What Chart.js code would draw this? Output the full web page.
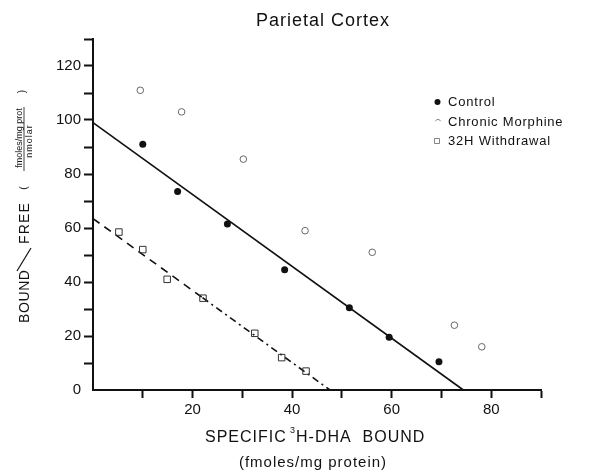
<!DOCTYPE html>
<html>
<head>
<meta charset="utf-8">
<script src="https://cdn.jsdelivr.net/npm/chart.js@4/dist/chart.umd.min.js"></script>
<style>
  html, body { margin: 0; padding: 0; background: #fff; }
  canvas { display: block; }
</style>
</head>
<body>
<canvas id="c" width="589" height="472"></canvas>
<script>
// ---- data ----
const titleText = "Parietal Cortex";
const seriesNames = ["Control", "Chronic Morphine", "32H Withdrawal"];

const controlX = [10, 17, 27, 38.5, 51.5, 59.5, 69.5];
const controlY = [91, 73.5, 61.5, 44.5, 30.5, 19.5, 10.5];

const morphineX = [9.5, 17.8, 30.2, 42.6, 56.1, 72.6, 78.1];
const morphineY = [111, 103, 85.5, 59, 51, 24, 16];

const withdrawalX = [5.2, 10, 14.9, 22.1, 32.5, 37.9, 42.8];
const withdrawalY = [58.5, 52, 41, 34, 21, 12, 7];

const controlFitX = [0, 74.4];
const controlFitY = [99, 0];

const withdrawalFitX = [0, 22, 47.6];
const withdrawalFitY = [63.5, 34.2, 0];

const xTickLabels = [20, 40, 60, 80];
const yTickLabels = [0, 20, 40, 60, 80, 100, 120];

const xTitle1 = "SPECIFIC";
const xTitleSup = "3";
const xTitle2 = "H-DHA  BOUND";
const xTitle3 = "(fmoles/mg protein)";
const yTitleA = "BOUND";
const yTitleB = "FREE";
const yFracNum = "fmoles/mg prot";
const yFracDen = "nmolar";

// ---- helpers ----
const zip = (xs, ys) => xs.map((x, i) => ({ x: x, y: ys[i] }));
const FONT = '"Liberation Sans", Arial, sans-serif';

const textPlugin = {
  id: 'texts',
  afterDraw(chart) {
    const ctx = chart.ctx;
    ctx.save();
    ctx.fillStyle = '#111';
    ctx.strokeStyle = '#111';

    // title
    ctx.font = '18px ' + FONT;
    ctx.letterSpacing = '1px';
    ctx.textAlign = 'center';
    ctx.textBaseline = 'alphabetic';
    ctx.fillText(titleText, 323, 26);

    // legend
    ctx.font = '13px ' + FONT;
    ctx.letterSpacing = '0.8px';
    ctx.textAlign = 'left';
    const legY = [106, 125.5, 144.5];
    seriesNames.forEach((name, i) => {
      ctx.fillText(name, 448, legY[i]);
    });
    // legend markers
    ctx.beginPath();
    ctx.arc(437.5, 102, 3, 0, Math.PI * 2);
    ctx.fillStyle = '#111';
    ctx.fill();
    ctx.lineWidth = 0.9;
    ctx.strokeStyle = '#777';
    ctx.beginPath();
    ctx.arc(438, 122, 2.6, Math.PI * 1.1, Math.PI * 1.9);
    ctx.stroke();
    ctx.beginPath();
    ctx.rect(434.5, 138.5, 5, 5);
    ctx.stroke();
    ctx.strokeStyle = '#111';
    ctx.fillStyle = '#111';

    // x title
    ctx.font = '16px ' + FONT;
    ctx.letterSpacing = '1px';
    ctx.textAlign = 'left';
    ctx.fillText(xTitle1, 205, 442);
    ctx.font = '9px ' + FONT;
    ctx.letterSpacing = '0px';
    ctx.fillText(xTitleSup, 290, 433);
    ctx.font = '16px ' + FONT;
    ctx.letterSpacing = '1px';
    ctx.fillText(xTitle2, 296, 442);
    ctx.font = '15px ' + FONT;
    ctx.letterSpacing = '1px';
    ctx.textAlign = 'center';
    ctx.fillText(xTitle3, 313, 467);

    // y title (rotated)
    ctx.save();
    ctx.translate(29, 323);
    ctx.rotate(-Math.PI / 2);
    ctx.font = '14px ' + FONT;
    ctx.letterSpacing = '0.6px';
    ctx.textAlign = 'left';
    ctx.fillText(yTitleA, 0, 0);
    ctx.restore();
    // big slash
    ctx.lineWidth = 1.2;
    ctx.beginPath();
    ctx.moveTo(31, 248);
    ctx.lineTo(17, 271);
    ctx.stroke();
    ctx.save();
    ctx.translate(29, 244);
    ctx.rotate(-Math.PI / 2);
    ctx.font = '14px ' + FONT;
    ctx.letterSpacing = '1.2px';
    ctx.textAlign = 'left';
    ctx.fillText(yTitleB, 0, 0);
    ctx.restore();
    // parentheses & fraction
    ctx.save();
    ctx.translate(27, 188);
    ctx.rotate(-Math.PI / 2);
    ctx.font = '10px ' + FONT;
    ctx.letterSpacing = '0px';
    ctx.textAlign = 'center';
    ctx.fillText('(', 0, 0);
    ctx.restore();
    ctx.save();
    ctx.translate(21.5, 138);
    ctx.rotate(-Math.PI / 2);
    ctx.font = '9px ' + FONT;
    ctx.letterSpacing = '0px';
    ctx.textAlign = 'center';
    ctx.fillText(yFracNum, 0, 0);
    ctx.restore();
    ctx.lineWidth = 0.8;
    ctx.beginPath();
    ctx.moveTo(24, 171);
    ctx.lineTo(24, 107);
    ctx.stroke();
    ctx.save();
    ctx.translate(31.5, 141);
    ctx.rotate(-Math.PI / 2);
    ctx.font = '9px ' + FONT;
    ctx.textAlign = 'center';
    ctx.fillText(yFracDen, 0, 0);
    ctx.restore();
    ctx.save();
    ctx.translate(25, 91);
    ctx.rotate(-Math.PI / 2);
    ctx.font = '10px ' + FONT;
    ctx.textAlign = 'center';
    ctx.fillText(')', 0, 0);
    ctx.restore();

    ctx.restore();
  }
};

new Chart(document.getElementById('c'), {
  type: 'scatter',
  data: {
    datasets: [
      {
        label: seriesNames[0],
        data: zip(controlX, controlY),
        pointStyle: 'circle',
        pointRadius: 3.5,
        backgroundColor: '#111',
        borderColor: '#111',
        borderWidth: 0,
        clip: false
      },
      {
        label: seriesNames[1],
        data: zip(morphineX, morphineY),
        pointStyle: 'circle',
        pointRadius: 3.3,
        backgroundColor: 'rgba(255,255,255,0)',
        borderColor: '#666',
        borderWidth: 1,
        clip: false
      },
      {
        label: seriesNames[2],
        data: zip(withdrawalX, withdrawalY),
        pointStyle: 'rect',
        pointRadius: 4.6,
        backgroundColor: 'rgba(255,255,255,0)',
        borderColor: '#333',
        borderWidth: 1,
        clip: false
      },
      {
        label: 'controlFit',
        data: zip(controlFitX, controlFitY),
        showLine: true,
        pointRadius: 0,
        borderColor: '#111',
        borderWidth: 1.6,
        clip: false
      },
      {
        label: 'withdrawalFit',
        data: zip(withdrawalFitX, withdrawalFitY),
        showLine: true,
        pointRadius: 0,
        borderColor: '#111',
        borderWidth: 1.6,
        clip: false,
        segment: {
          borderDash: c => c.p0DataIndex === 0 ? [8, 6] : [7, 4, 2, 4]
        }
      }
    ]
  },
  options: {
    responsive: false,
    animation: false,
    layout: { padding: { left: 0, right: 48, top: 39, bottom: 0 } },
    plugins: {
      legend: { display: false },
      title: { display: false },
      tooltip: { enabled: false }
    },
    scales: {
      x: {
        type: 'linear',
        min: 0,
        max: 90,
        afterFit: s => { s.height = 82; },
        afterBuildTicks: s => {
          const t = [];
          for (let v = 0; v <= 90; v += 10) t.push({ value: v });
          s.ticks = t;
        },
        border: { display: true, color: '#111', width: 2 },
        grid: {
          drawOnChartArea: false,
          drawTicks: true,
          tickLength: 8,
          tickWidth: 2,
          tickColor: c => (c.tick && c.tick.value === 0) ? 'rgba(0,0,0,0)' : '#111'
        },
        ticks: {
          autoSkip: false,
          maxRotation: 0,
          padding: 3,
          color: '#111',
          font: { family: 'Liberation Sans', size: 15 },
          callback: v => xTickLabels.includes(v) ? String(v) : ''
        }
      },
      y: {
        type: 'linear',
        min: 0,
        max: 130,
        afterFit: s => { s.width = 93; },
        afterBuildTicks: s => {
          const t = [];
          for (let v = 0; v <= 130; v += 10) t.push({ value: v });
          s.ticks = t;
        },
        border: { display: true, color: '#111', width: 2 },
        grid: {
          drawOnChartArea: false,
          drawTicks: true,
          tickLength: 9,
          tickWidth: 2,
          tickColor: c => (c.tick && c.tick.value === 0) ? 'rgba(0,0,0,0)' : '#111'
        },
        ticks: {
          autoSkip: false,
          padding: 3,
          color: '#111',
          font: { family: 'Liberation Sans', size: 15 },
          callback: v => yTickLabels.includes(v) ? String(v) : ''
        }
      }
    }
  },
  plugins: [textPlugin]
});
</script>
</body>
</html>
